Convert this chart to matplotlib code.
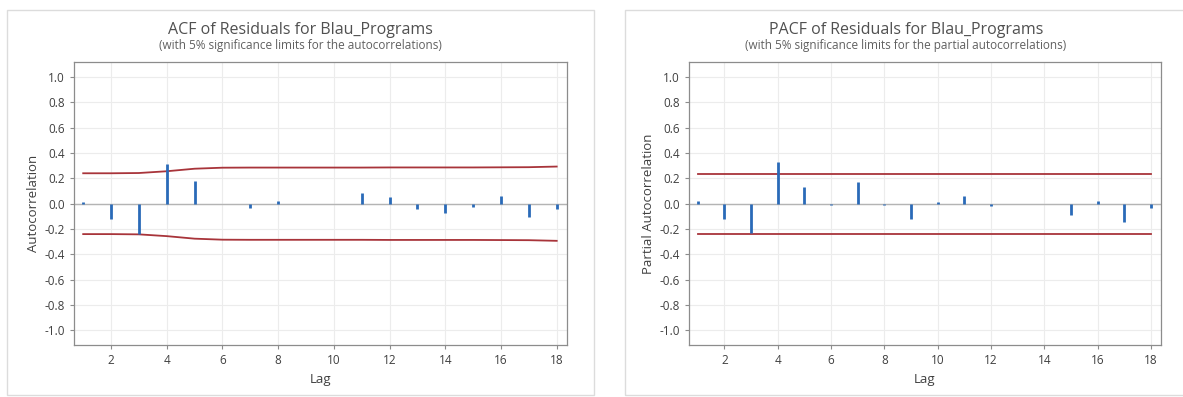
import matplotlib
matplotlib.use("Agg")
import matplotlib.pyplot as plt
from matplotlib.patches import Rectangle

plt.rcParams['font.family'] = ['Open Sans', 'DejaVu Sans']

lags = list(range(1, 19))
acf_values = [0.015, -0.124, -0.242, 0.313, 0.180, -0.003, -0.035, 0.020, 0.000,
              -0.005, 0.087, 0.050, -0.040, -0.070, -0.030, 0.063, -0.108, -0.040]
acf_limits = [0.240, 0.240, 0.242, 0.256, 0.276, 0.284, 0.285, 0.285, 0.285,
              0.285, 0.285, 0.286, 0.286, 0.286, 0.286, 0.287, 0.288, 0.293]
pacf_values = [0.020, -0.120, -0.235, 0.330, 0.130, -0.010, 0.173, -0.008, -0.120,
               0.015, 0.060, -0.020, -0.003, 0.000, -0.090, 0.018, -0.147, -0.037]
pacf_limit = 0.237
x_ticks = [2, 4, 6, 8, 10, 12, 14, 16, 18]
y_ticks = [1.0, 0.8, 0.6, 0.4, 0.2, 0.0, -0.2, -0.4, -0.6, -0.8, -1.0]

W, H = 1183, 397
fig = plt.figure(figsize=(W / 100, H / 100), dpi=100)

# panel frames
for (x0, x1) in [(7, 594), (625, 1190)]:
    fig.patches.append(Rectangle((x0 / W, 1 - 395 / H), (x1 - x0) / W, (395 - 10) / H,
                                 transform=fig.transFigure, fill=False,
                                 edgecolor='#dcdcdc', linewidth=1.0))

STEM = '#2a6ab8'
LIM = '#a8343a'
TXT = '#404040'


def style_axes(ax, ylabel):
    ax.set_xlim(0.67, 18.37)
    ax.set_ylim(-1.115, 1.118)
    ax.set_xticks(x_ticks)
    ax.set_yticks(y_ticks)
    ax.set_yticklabels([f"{v:.1f}" for v in y_ticks])
    ax.grid(True, color='#ececec', linewidth=0.8)
    ax.set_axisbelow(True)
    for s in ax.spines.values():
        s.set_color('#8c8c8c')
        s.set_linewidth(0.9)
    ax.tick_params(colors='#8c8c8c', labelcolor=TXT, labelsize=8.5, length=3, width=0.8)
    ax.axhline(0, color='#b4b4b4', linewidth=1.0, zorder=1)
    ax.set_xlabel('Lag', fontsize=9.5, color=TXT, labelpad=4)
    ax.set_ylabel(ylabel, fontsize=9.5, color=TXT, labelpad=3)


# ACF
ax1 = fig.add_axes([74 / W, 1 - 345 / H, (567 - 74) / W, (345 - 62) / H])
style_axes(ax1, 'Autocorrelation')
ax1.vlines(lags, 0, acf_values, color=STEM, linewidth=2.0, zorder=3)
ax1.plot(lags, acf_limits, color=LIM, linewidth=1.3, zorder=2)
ax1.plot(lags, [-v for v in acf_limits], color=LIM, linewidth=1.3, zorder=2)
fig.text(300 / W, 1 - 30 / H, 'ACF of Residuals for Blau_Programs',
         ha='center', va='center', fontsize=11.5, color='#505050')
fig.text(300 / W, 1 - 46 / H, '(with 5% significance limits for the autocorrelations)',
         ha='center', va='center', fontsize=8.5, color='#606060')

# PACF
ax2 = fig.add_axes([689 / W, 1 - 345 / H, (1161 - 689) / W, (345 - 62) / H])
style_axes(ax2, 'Partial Autocorrelation')
ax2.vlines(lags, 0, pacf_values, color=STEM, linewidth=2.0, zorder=3)
ax2.plot([lags[0], lags[-1]], [pacf_limit, pacf_limit], color=LIM, linewidth=1.3, zorder=2)
ax2.plot([lags[0], lags[-1]], [-pacf_limit, -pacf_limit], color=LIM, linewidth=1.3, zorder=2)
fig.text(906 / W, 1 - 30 / H, 'PACF of Residuals for Blau_Programs',
         ha='center', va='center', fontsize=11.5, color='#505050')
fig.text(906 / W, 1 - 46 / H, '(with 5% significance limits for the partial autocorrelations)',
         ha='center', va='center', fontsize=8.5, color='#606060')

fig.savefig('out.png', dpi=100, facecolor='white')
